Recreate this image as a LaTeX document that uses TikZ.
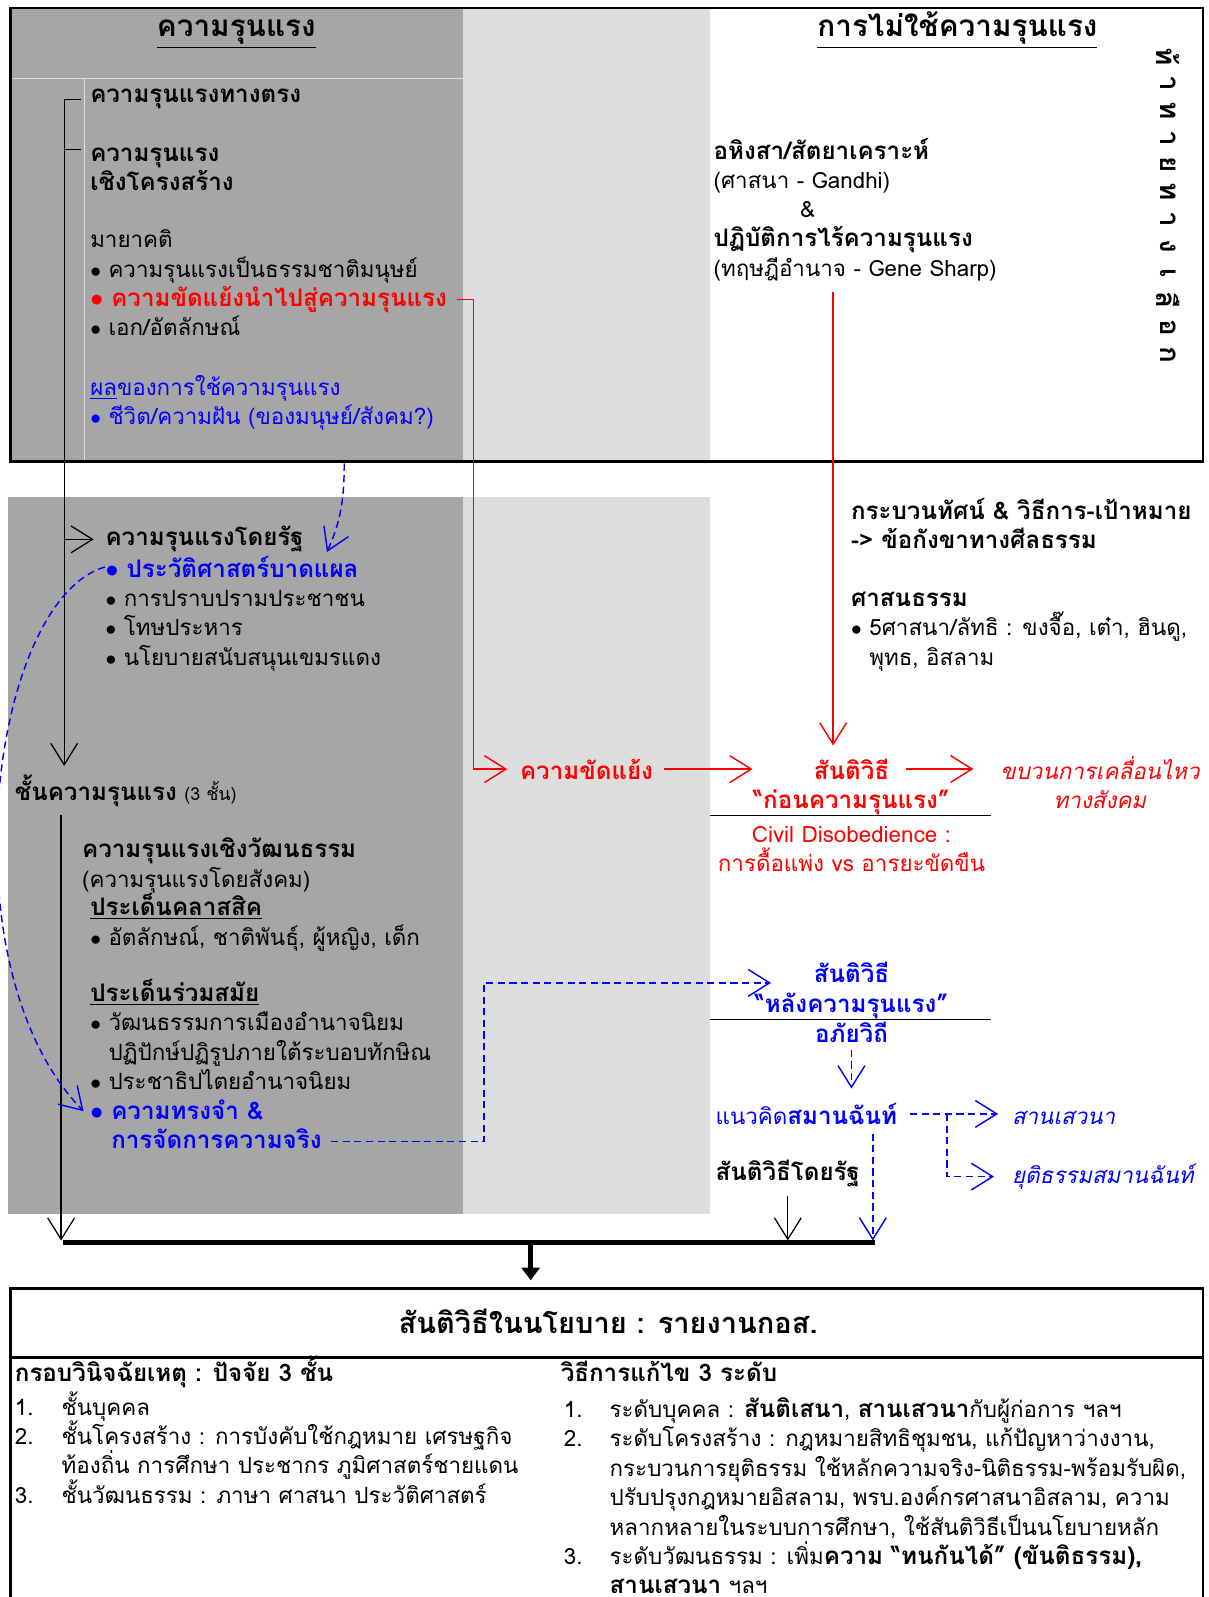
\documentclass[tikz,border=0pt]{standalone}
\usepackage{fontspec}
\setmainfont[Script=Thai]{Loma}
\usetikzlibrary{arrows.meta,calc,positioning}
\definecolor{cellgray}{HTML}{A6A6A6}
\definecolor{palegray}{HTML}{DDDDDD}
\definecolor{thred}{RGB}{255,0,0}
\definecolor{thblue}{RGB}{0,0,255}
\newcommand{\bul}{$\bullet$\ }
\newcommand{\bulgap}{\phantom{$\bullet$\ }}
\newcommand{\tb}[1]{{\fontsize{13.5}{16.44}\selectfont\bfseries #1}}
\lineskiplimit=-50pt
\normallineskiplimit=-50pt
\AtBeginDocument{\fontsize{12.5}{16.44}\selectfont}
% multi-line nodes sit on the baseline of their last line
\tikzset{
  txt/.style={anchor=base west, inner sep=0pt, align=left},
  ctr/.style={anchor=base, inner sep=0pt, align=center},
  bold/.style={font=\fontsize{13.5}{16.44}\selectfont\bfseries},
  vee/.style={-{Straight Barb[length=12pt,width=15pt]}},
  bluedash/.style={thblue, line width=0.8pt, dash pattern=on 4pt off 2.5pt},
  redline/.style={thred, line width=0.8pt},
}

\begin{document}
\begin{tikzpicture}[x=0.02cm, y=-0.02cm, line width=0.7pt]
    \useasboundingbox (0,0) rectangle (1187,1568);

    % upper table
    \fill[cellgray] (10,8) rectangle (455,453);
    \fill[palegray] (455,8) rectangle (697,453);
    \draw[white!75!gray, line width=0.5pt] (10,77) -- (455,77) (83,77) -- (83,453);
    \draw[line width=1.5pt] (10,8) rectangle (1181,453);

    \node[ctr, font=\fontsize{16.6}{18}\selectfont\bfseries] (hviol) at (232,36) {\underline{ความรุนแรง}};
    \node[ctr, font=\fontsize{16.6}{18}\selectfont\bfseries] (hnon) at (940,36) {\underline{การไม่ใช้ความรุนแรง}};

    \foreach \ch [count=\i] in {ท้,า,ท,า,ย,ท,า,ง,เ,ลื,อ,ก}
        \node[rotate=-90, inner sep=0pt, font=\fontsize{15.5}{17}\selectfont\bfseries] (alt\i) at (1147,29+26.6*\i) {\ch};

    \node[txt, bold] (direct) at (88,101) {ความรุนแรงทางตรง};
    \node[txt, bold] (struct) at (88,187) {ความรุนแรง\\เชิงโครงสร้าง};
    \node[txt] (myth) at (88,272) {มายาคติ\\\bul ความรุนแรงเป็นธรรมชาติมนุษย์};
    \node[txt, thred, bold] (mythred) at (88,301) {\bul ความขัดแย้งนำไปสู่ความรุนแรง};
    \node[txt] (ident) at (88,329) {\bul เอก/อัตลักษณ์};
    \node[txt, thblue] (effect) at (88,417) {\underline{ผล}ของการใช้ความรุนแรง\\\bul ชีวิต/ความฝัน (ของมนุษย์/สังคม?)};

    \node[txt] (ahimsa) at (700,185) {\tb{อหิงสา/สัตยาเคราะห์}\\(ศาสนา - Gandhi)};
    \node[ctr] (amp) at (793,214) {\&};
    \node[txt] (action) at (700,271) {\tb{ปฏิบัติการไร้ความรุนแรง}\\(ทฤษฎีอำนาจ - Gene Sharp)};

    % middle table
    \fill[cellgray] (8,488) rectangle (455,1192);
    \fill[palegray] (455,488) rectangle (697,1192);

    \node[txt, bold] (stateV) at (103,536) {ความรุนแรงโดยรัฐ};
    \node[txt, thblue, bold] (trauma) at (103,567) {\bul ประวัติศาสตร์บาดแผล};
    \node[txt] (stateL) at (103,653) {\bul การปราบปรามประชาชน\\\bul โทษประหาร\\\bul นโยบายสนับสนุนเขมรแดง};

    \node[txt] (layers) at (14,786) {\tb{ชั้นความรุนแรง} {\fontsize{10}{12}\selectfont (3 ชั้น)}};
    \node[txt] (cultV) at (80,871) {\tb{ความรุนแรงเชิงวัฒนธรรม}\\(ความรุนแรงโดยสังคม)};
    \node[txt] (classic) at (88,928) {\tb{\underline{ประเด็นคลาสสิค}}\\\bul อัตลักษณ์, ชาติพันธุ์, ผู้หญิง, เด็ก};
    \node[txt] (contemp) at (88,1070) {\tb{\underline{ประเด็นร่วมสมัย}}\\\bul วัฒนธรรมการเมืองอำนาจนิยม\\\bulgap ปฏิปักษ์ปฏิรูปภายใต้ระบอบทักษิณ\\\bul ประชาธิปไตยอำนาจนิยม};
    \node[txt, thblue, bold] (memory) at (88,1128) {\bul ความทรงจำ \&\\\bulgap การจัดการความจริง};

    \node[txt, bold] (para) at (835,539) {กระบวนทัศน์ \& วิธีการ-เป้าหมาย\\-> ข้อกังขาทางศีลธรรม};
    \node[txt, bold] (relig) at (835,595) {ศาสนธรรม};
    \node[txt] (five) at (835,653) {\bul 5ศาสนา/ลัทธิ : ขงจื๊อ, เต๋า, ฮินดู,\\\bulgap พุทธ, อิสลาม};

    \node[txt, thred, bold] (conflict) at (510,765) {ความขัดแย้ง};
    \node[ctr, thred, bold] (preA) at (836,765) {สันติวิธี};
    \node[ctr, thred, bold] (preB) at (836,794) {“ก่อนความรุนแรง”};
    \node[ctr, thred, font=\itshape] (move) at (1080,794) {ขบวนการเคลื่อนไหว\\ทางสังคม};
    \node[ctr, thred] (civil) at (836,856) {Civil Disobedience :\\การดื้อแพ่ง vs อารยะขัดขืน};
    \draw (697,801) -- (973,801);

    \node[ctr, thblue, bold] (postA) at (836,965) {สันติวิธี};
    \node[ctr, thblue, bold] (postB) at (836,994) {“หลังความรุนแรง”};
    \draw (697,1001) -- (973,1001);
    \node[ctr, thblue, bold] (forgive) at (836,1024) {อภัยวิถี};
    \node[txt, thblue] (recon) at (702,1104) {แนวคิด\tb{สมานฉันท์}};
    \node[txt, thblue, font=\itshape] (dialog) at (993,1104) {สานเสวนา};
    \node[txt, thblue, font=\itshape] (justice) at (993,1162) {ยุติธรรมสมานฉันท์};
    \node[txt, bold] (stateP) at (702,1159) {สันติวิธีโดยรัฐ};

    % tree lines
    \coordinate (lbot) at (63,752);
    \coordinate (tick) at (80,147);
    \draw[vee] ($(direct.west)+(-8,0)$) -| (lbot);
    \draw (tick) -- (tick -| lbot);
    \draw[vee] (stateV.west -| lbot) -- ($(stateV.west)+(-11,0)$);
    \coordinate (l2top) at (60,800);
    \coordinate (l2bot) at (60,1218);
    \draw[vee] (l2top) -- (l2bot);

    % red path
    \coordinate (rtop) at (818,287);
    \coordinate (rbot) at (818,732);
    \draw[redline, vee] ($(mythred.east)+(9,0)$) -| ($(conflict.west)+(-45,0)$) -- ($(conflict.west)+(-12,0)$);
    \draw[redline, vee] ($(conflict.east)+(10,0)$) -- (conflict.east -| preB.west);
    \draw[redline, vee] ($(preA.east)+(16,0)$) -- ($(preA.east -| move.west)+(-26,0)$);
    \draw[redline, vee] (rtop) -- (rbot);

    % blue dashed paths
    \coordinate (c1s) at (338,455);
    \coordinate (c1e) at (321,542);
    \coordinate (c2e) at (82,1091);
    \coordinate (mstart) at (325,1121);
    \coordinate (bturn) at (475,965);
    \coordinate (btip) at (757,965);
    \coordinate (rfork) at (930,1100);
    \coordinate (rdrop) at (857,1113);
    \coordinate (rland) at (857,1218);
    \draw[bluedash, vee] (c1s) .. controls (338,495) and (333,515) .. (c1e);
    \draw[bluedash, vee] (trauma.west) .. controls (-10,590) and (-55,950) .. (c2e);
    \draw[bluedash, vee] (mstart) -| (bturn) -- (btip);
    \draw[bluedash, vee] ($(forgive.south)+(0,6)$) -- ($(forgive.south)+(0,44)$);
    \draw[bluedash, vee] ($(recon.east)+(12,0)$) -- ($(recon.east -| dialog.west)+(-13,0)$);
    \draw[bluedash, vee] (recon.east -| rfork) |- ($(justice.west)+(-17,0)$);
    \draw[bluedash, vee] (rdrop) -- (rland);
    \draw[vee] ($(stateP.south)+(0,8)$) -- ($(stateP.south)+(0,52)$);

    % joining bar
    \coordinate (barL) at (62,1220);
    \coordinate (barR) at (859,1220);
    \coordinate (barM) at (521,1220);
    \coordinate (boxT) at (521,1257);
    \draw[line width=3pt] (barL) -- (barR);
    \draw[line width=2.5pt, -{Triangle[length=7pt,width=10pt]}] (barM) -- (boxT);

    % policy box
    \draw[line width=1.5pt] (10,1585) |- (1181,1265) -- (1181,1585);
    \draw[line width=1.5pt] (10,1333) -- (1181,1333);
    \node[ctr, font=\fontsize{16.2}{18}\selectfont\bfseries] (title) at (597,1309) {สันติวิธีในนโยบาย : รายงานกอส.};

    \node[txt, bold] (cause) at (14,1356) {กรอบวินิจฉัยเหตุ : ปัจจัย 3 ชั้น};
    \node[txt] (causeno) at (14,1476) {1.\\2.\\~\\3.};
    \node[txt] (causetx) at (60,1476) {ชั้นบุคคล\\ชั้นโครงสร้าง : การบังคับใช้กฎหมาย เศรษฐกิจ\\ท้องถิ่น การศึกษา ประชากร ภูมิศาสตร์ชายแดน\\ชั้นวัฒนธรรม : ภาษา ศาสนา ประวัติศาสตร์};

    \node[txt, bold] (remedy) at (550,1356) {วิธีการแก้ไข 3 ระดับ};
    \node[txt] (remedyno) at (553,1565) {1.\\2.\\~\\~\\~\\3.\\~};
    \node[txt] (remedytx) at (598,1565) {ระดับบุคคล : \tb{สันติเสนา}, \tb{สานเสวนา}กับผู้ก่อการ ฯลฯ\\ระดับโครงสร้าง : กฎหมายสิทธิชุมชน, แก้ปัญหาว่างงาน,\\กระบวนการยุติธรรม ใช้หลักความจริง-นิติธรรม-พร้อมรับผิด,\\ปรับปรุงกฎหมายอิสลาม, พรบ.องค์กรศาสนาอิสลาม, ความ\\หลากหลายในระบบการศึกษา, ใช้สันติวิธีเป็นนโยบายหลัก\\ระดับวัฒนธรรม : เพิ่ม\tb{ความ “ทนกันได้” (ขันติธรรม),}\\\tb{สานเสวนา} ฯลฯ};
\end{tikzpicture}
\end{document}
